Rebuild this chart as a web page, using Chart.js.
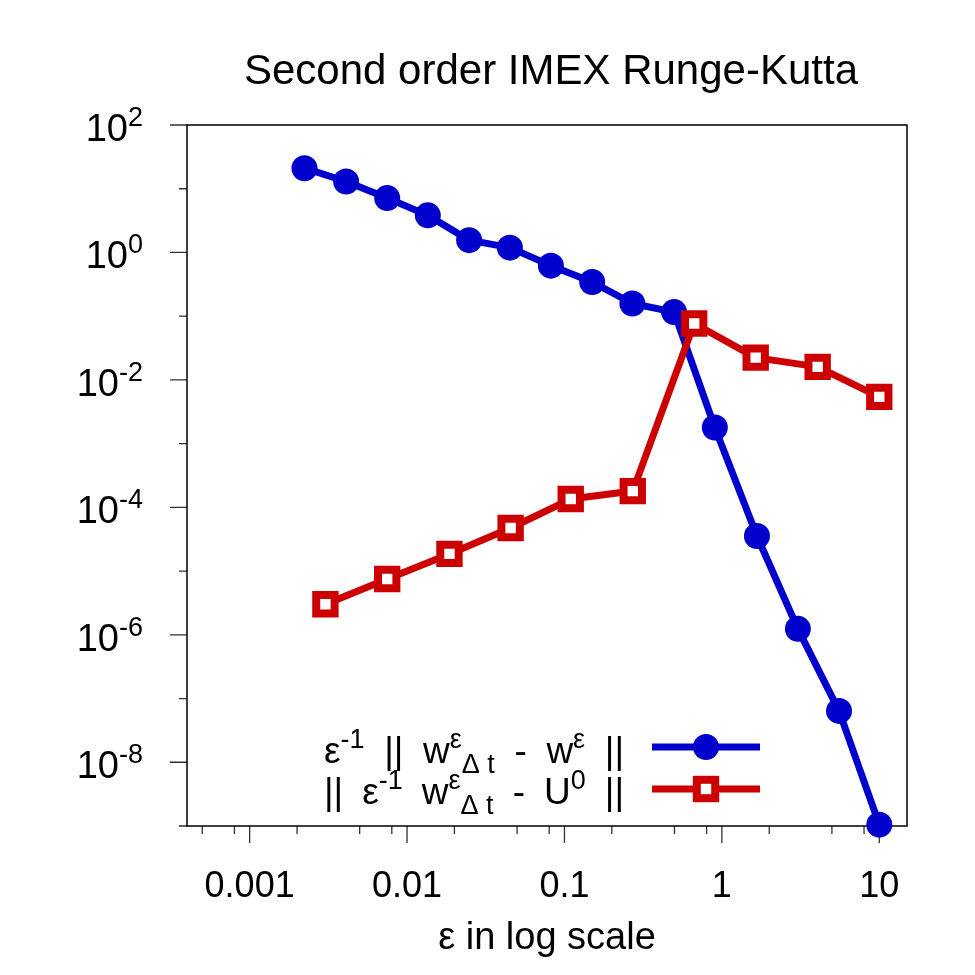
<!DOCTYPE html>
<html><head><meta charset="utf-8">
<script src="https://cdn.jsdelivr.net/npm/chart.js@4.4.1/dist/chart.umd.min.js"></script>
<style>html,body{margin:0;padding:0;background:#fff}#wrap{width:975px;height:975px}</style>
</head><body><div id="wrap"><canvas id="c" width="975" height="975"></canvas></div>
<script>
const titleText = "Second order IMEX Runge-Kutta";
const xAxisTitle = "ε in log scale";

// series 1 (blue, filled circles)
const epsBlue = [0.00223, 0.00410, 0.00748, 0.01355, 0.0248, 0.0450, 0.0820, 0.150, 0.270, 0.497, 0.902, 1.67, 3.04, 5.55, 10];
const errBlue = [21.0, 13.0, 7.13, 3.82, 1.56, 1.19, 0.621, 0.344, 0.158, 0.116, 0.00179, 3.55e-5, 1.24e-6, 6.4e-8, 1.05e-9];
// series 2 (red, open squares)
const epsRed = [0.00303, 0.00748, 0.0186, 0.0455, 0.1096, 0.2716, 0.667, 1.64, 4.06, 10];
const errRed = [3.02e-6, 7.52e-6, 1.86e-5, 4.74e-5, 1.35e-4, 1.80e-4, 0.0766, 0.0224, 0.0160, 0.00542];

const xMajorTicks = [0.001, 0.01, 0.1, 1, 10];
const xTickLabels = ["0.001", "0.01", "0.1", "1", "10"];
const xMinorTicks = [0.0005, 0.0008, 0.002, 0.005, 0.008, 0.02, 0.05, 0.08, 0.2, 0.5, 0.8, 2, 5, 8];
const yMajorExps = [2, 0, -2, -4, -6, -8];
const yMinorExps = [1, -1, -3, -5, -7, -9];

// legend texts: [text, level] level 1 = superscript, -1 = subscript
const legendBlue = [["ε",0],["-1",1],[" || w",0],["ε",1],["Δ t",-1],[" - w",0],["ε",1],[" ||",0]];
const legendRed  = [["|| ε",0],["-1",1],[" w",0],["ε",1],["Δ t",-1],[" - U",0],["0",1],[" ||",0]];

const BLUE = '#0000cc', RED = '#cc0000';
const FONT = '"Liberation Sans", Arial, Helvetica, sans-serif';

function drawRich(ctx, pieces, rightX, baseY, size, ssize, totalW) {
  // split into segments; extra width goes into spaces of the main-level text
  const segs = [];
  pieces.forEach(p => {
    const parts = p[0].split(/( )/).filter(s => s.length);
    parts.forEach(s => segs.push([s, p[1]]));
  });
  const widths = segs.map(s => { ctx.font = (s[1] ? ssize : size) + 'px ' + FONT; return ctx.measureText(s[0]).width; });
  const nat = widths.reduce((a,b)=>a+b,0);
  const nSp = segs.filter(s => s[0] === ' ' && s[1] === 0).length;
  const extra = (totalW && nSp) ? Math.max(0, (totalW - nat) / nSp) : 0;
  let x = rightX - (nat + extra * nSp);
  ctx.textAlign = 'left'; ctx.textBaseline = 'alphabetic'; ctx.fillStyle = '#000';
  segs.forEach((s, i) => {
    ctx.font = (s[1] ? ssize : size) + 'px ' + FONT;
    const dy = s[1] === 1 ? -size*0.40 : (s[1] === -1 ? size*0.28 : 0);
    if (s[0] !== ' ') ctx.fillText(s[0], x, baseY + dy);
    x += widths[i] + ((s[0] === ' ' && s[1] === 0) ? extra : 0);
  });
}

const decor = {
  id: 'decor',
  beforeDatasetsDraw(chart) {
    const ctx = chart.ctx, a = chart.chartArea, xs = chart.scales.x, ys = chart.scales.y;
    ctx.save();
    ctx.strokeStyle = '#333'; ctx.lineWidth = 1.3;
    ctx.beginPath();
    xMajorTicks.forEach(v => { const px = xs.getPixelForValue(v); ctx.moveTo(px, a.bottom); ctx.lineTo(px, a.bottom + 17); });
    xMinorTicks.forEach(v => { const px = xs.getPixelForValue(v); ctx.moveTo(px, a.bottom); ctx.lineTo(px, a.bottom + 8); });
    yMajorExps.forEach(e => { const py = ys.getPixelForValue(Math.pow(10, e)); ctx.moveTo(a.left - 17, py); ctx.lineTo(a.left, py); });
    yMinorExps.forEach(e => { const py = ys.getPixelForValue(Math.pow(10, e)); ctx.moveTo(a.left - 8, py); ctx.lineTo(a.left, py); });
    ctx.stroke();
    ctx.strokeStyle = '#000'; ctx.lineWidth = 1.5;
    ctx.strokeRect(a.left, a.top, a.right - a.left, a.bottom - a.top);
    ctx.restore();
  },
  afterDraw(chart) {
    const ctx = chart.ctx, a = chart.chartArea, xs = chart.scales.x, ys = chart.scales.y;
    ctx.save();
    ctx.fillStyle = '#000';
    // title
    ctx.font = '42px ' + FONT; ctx.textAlign = 'center'; ctx.textBaseline = 'alphabetic';
    ctx.fillText(titleText, (a.left + a.right) / 2 + 4, 84);
    // x tick labels
    ctx.font = '36px ' + FONT;
    xMajorTicks.forEach((v, i) => ctx.fillText(xTickLabels[i], xs.getPixelForValue(v), 897));
    // x axis title
    ctx.font = '38px ' + FONT;
    ctx.fillText(xAxisTitle, (a.left + a.right) / 2, 949);
    // y tick labels 10^e
    yMajorExps.forEach(e => {
      const py = ys.getPixelForValue(Math.pow(10, e));
      drawRich(ctx, [["10",0],[String(e),1]], 143, py + 16, 38, 27, 0);
    });
    // legend
    const lx0 = 652, lx1 = 760, mx = 706;
    const y1 = 747, y2 = 789;
    drawRich(ctx, legendBlue, 624, 763, 37, 27, 300);
    drawRich(ctx, legendRed, 624, 804, 37, 27, 300);
    ctx.lineWidth = 7;
    ctx.strokeStyle = BLUE; ctx.beginPath(); ctx.moveTo(lx0, y1); ctx.lineTo(lx1, y1); ctx.stroke();
    ctx.fillStyle = BLUE; ctx.beginPath(); ctx.arc(mx, y1, 13, 0, Math.PI*2); ctx.fill();
    ctx.strokeStyle = RED; ctx.beginPath(); ctx.moveTo(lx0, y2); ctx.lineTo(lx1, y2); ctx.stroke();
    ctx.fillStyle = '#fff'; ctx.lineWidth = 8;
    ctx.fillRect(mx - 9.2, y2 - 9.2, 18.4, 18.4); ctx.strokeRect(mx - 9.2, y2 - 9.2, 18.4, 18.4);
    ctx.restore();
  }
};

new Chart(document.getElementById('c'), {
  type: 'line',
  data: {
    datasets: [
      {
        label: 'blue',
        data: epsBlue.map((x, i) => ({x: x, y: errBlue[i]})),
        borderColor: BLUE, backgroundColor: BLUE, borderWidth: 7,
        pointRadius: 13, pointBorderWidth: 0, pointBackgroundColor: BLUE, pointStyle: 'circle',
        borderJoinStyle: 'round', tension: 0, clip: false, order: 1
      },
      {
        label: 'red',
        data: epsRed.map((x, i) => ({x: x, y: errRed[i]})),
        borderColor: RED, backgroundColor: RED, borderWidth: 7,
        pointRadius: 13, pointBorderWidth: 8, pointBorderColor: RED, pointBackgroundColor: '#fff', pointStyle: 'rect',
        borderJoinStyle: 'round', tension: 0, clip: false, order: 0
      }
    ]
  },
  options: {
    responsive: false, animation: false, devicePixelRatio: 1,
    layout: {padding: {left: 0, top: 125, right: 68, bottom: 0}},
    plugins: {legend: {display: false}, tooltip: {enabled: false}, title: {display: false}},
    scales: {
      x: {type: 'logarithmic', position: 'bottom', min: 0.0004, max: 15,
          grid: {display: false, drawTicks: false}, border: {display: false}, ticks: {display: false},
          afterFit(s) { s.height = 149; }},
      y: {type: 'logarithmic', position: 'left', min: 1e-9, max: 100,
          grid: {display: false, drawTicks: false}, border: {display: false}, ticks: {display: false},
          afterFit(s) { s.width = 187; }}
    }
  },
  plugins: [decor]
});
</script>
</body></html>
